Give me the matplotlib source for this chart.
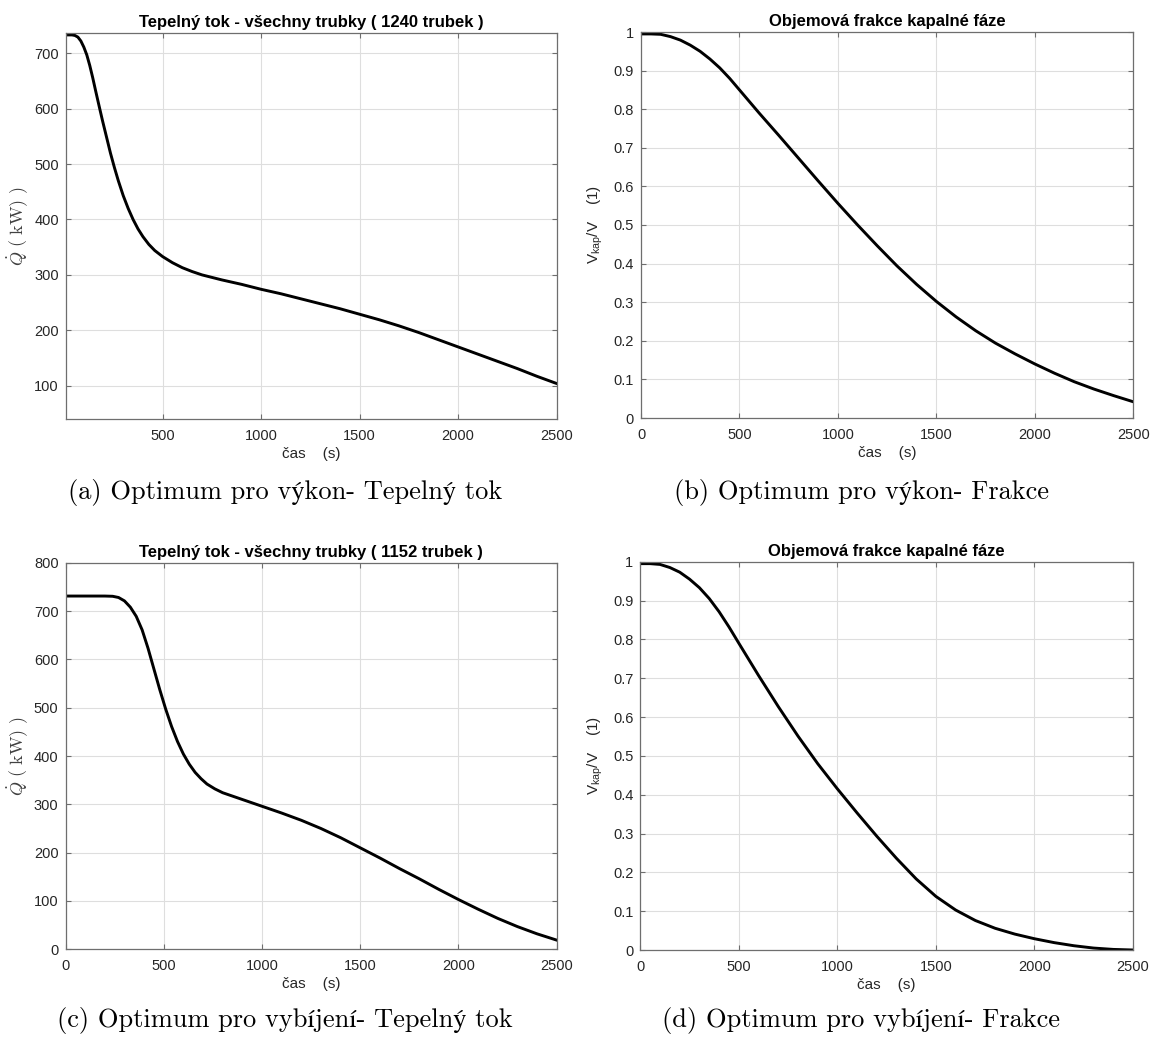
import matplotlib
matplotlib.use("Agg")
import matplotlib.pyplot as plt

# --- data -------------------------------------------------------------
# (a) heat flow, 1240 tubes
t_a = [8, 40, 55, 70, 85, 100, 115, 130, 145, 160, 178, 195, 215, 235, 255,
       275, 300, 325, 350, 375, 400, 430, 460, 500, 550, 600, 650, 700, 800,
       900, 1000, 1100, 1200, 1300, 1400, 1500, 1600, 1700, 1800, 1900, 2000,
       2100, 2200, 2300, 2400, 2500]
q_a = [733, 733, 732, 729, 722, 711, 697, 678, 656, 632, 604, 578, 549, 520,
       494, 470, 443, 420, 400, 383, 369, 355, 344, 333, 322, 313, 306, 300,
       291, 283, 274, 266, 257, 248, 239, 229, 219, 208, 196, 183, 170, 157,
       144, 131, 117, 104]

# (b) liquid volume fraction, 1240 tubes
t_b = [0, 50, 100, 150, 200, 250, 300, 350, 400, 450, 500, 600, 700, 800,
       900, 1000, 1100, 1200, 1300, 1400, 1500, 1600, 1700, 1800, 1900, 2000,
       2100, 2200, 2300, 2400, 2500]
v_b = [0.995, 0.995, 0.994, 0.988, 0.979, 0.966, 0.950, 0.930, 0.907, 0.880,
       0.850, 0.790, 0.732, 0.673, 0.614, 0.556, 0.500, 0.446, 0.394, 0.346,
       0.302, 0.262, 0.226, 0.194, 0.166, 0.140, 0.116, 0.094, 0.075, 0.058,
       0.042]

# (c) heat flow, 1152 tubes
t_c = [0, 100, 200, 240, 270, 300, 330, 360, 390, 420, 450, 480, 510, 540,
       570, 600, 630, 660, 690, 720, 760, 800, 850, 900, 950, 1000, 1100, 1200,
       1300, 1400, 1500, 1600, 1700, 1800, 1900, 2000, 2100, 2200, 2300, 2400,
       2500]
q_c = [731, 731, 731, 730.5, 728, 721, 708, 689, 661, 623, 580, 537, 497, 461,
       430, 404, 383, 366, 353, 342, 332, 324, 317, 310, 303, 296, 282, 267,
       250, 231, 210, 189, 167, 146, 124, 103, 83, 64, 47, 32, 19]

# (d) liquid volume fraction, 1152 tubes
t_d = [0, 50, 100, 150, 200, 250, 300, 350, 400, 450, 500, 600, 700, 800,
       900, 1000, 1100, 1200, 1300, 1400, 1500, 1600, 1700, 1800, 1900, 2000,
       2100, 2200, 2300, 2400, 2500]
v_d = [0.995, 0.995, 0.993, 0.985, 0.973, 0.955, 0.933, 0.905, 0.871, 0.832,
       0.790, 0.707, 0.627, 0.551, 0.480, 0.415, 0.353, 0.293, 0.236, 0.183,
       0.138, 0.103, 0.076, 0.056, 0.041, 0.029, 0.019, 0.011, 0.005, 0.0015,
       0.0]

q_ticks_a = [100, 200, 300, 400, 500, 600, 700]
q_ticks_c = [0, 100, 200, 300, 400, 500, 600, 700, 800]
v_ticks = [0, 0.1, 0.2, 0.3, 0.4, 0.5, 0.6, 0.7, 0.8, 0.9, 1]
t_ticks_a = [500, 1000, 1500, 2000, 2500]
t_ticks = [0, 500, 1000, 1500, 2000, 2500]

titles = ["Tepelný tok - všechny trubky ( 1240 trubek )",
          "Objemová frakce kapalné fáze",
          "Tepelný tok - všechny trubky ( 1152 trubek )",
          "Objemová frakce kapalné fáze"]
captions = ["(a) Optimum pro výkon- Tepelný tok",
            "(b) Optimum pro výkon- Frakce",
            "(c) Optimum pro vybíjení- Tepelný tok",
            "(d) Optimum pro vybíjení- Frakce"]

# --- style -------------------------------------------------------------
plt.rcParams["font.family"] = ["Liberation Sans", "DejaVu Sans"]
plt.rcParams["mathtext.fontset"] = "custom"
plt.rcParams["mathtext.rm"] = "Liberation Sans"
plt.rcParams["mathtext.it"] = "Liberation Sans:italic"

W, H = 1164, 1038
fig = plt.figure(figsize=(W / 100, H / 100), dpi=100)

TXT = "#262626"
SPINE = "#6e6e6e"
GRID = "#dedede"


def px_axes(l, t, r, b):
    return fig.add_axes([l / W, 1 - b / H, (r - l) / W, (b - t) / H])


def style(ax, xlim, ylim, xt, yt, ylab_fmt=None):
    ax.set_xlim(*xlim)
    ax.set_ylim(*ylim)
    ax.set_xticks(xt)
    ax.set_yticks(yt)
    if ylab_fmt:
        ax.set_yticklabels([ylab_fmt(v) for v in yt])
    ax.grid(True, color=GRID, linewidth=0.8)
    ax.set_axisbelow(True)
    for s in ax.spines.values():
        s.set_color(SPINE)
        s.set_linewidth(0.9)
    ax.tick_params(direction="in", length=3.5, width=0.8, color=SPINE,
                   labelcolor=TXT, labelsize=10.5, top=True, right=True,
                   pad=5)
    ax.tick_params(axis="x", pad=7)
    ax.set_xlabel("čas    (s)", fontsize=11, color=TXT, labelpad=3)


def frac_fmt(v):
    return "0" if v == 0 else ("1" if v == 1 else f"{v:.1f}")


def heat_ylabel(ax):
    ax.set_ylabel(r"$\dot{Q}\ (\ \mathrm{kW})\ )$", fontsize=13,
                  color="#404040", math_fontfamily="cm", labelpad=3)


def frac_ylabel(ax):
    ax.set_ylabel(r"V$_{\mathrm{kap}}$/V    (1)", fontsize=11, color=TXT,
                  labelpad=6)


def title(ax, txt):
    ax.set_title(txt, fontsize=12, fontweight="bold", color="black", pad=4)


LW = 2.1

ax_a = px_axes(65.7, 32.7, 556.7, 419)
ax_a.plot(t_a, q_a, color="black", lw=LW, solid_joinstyle="round")
style(ax_a, (8, 2500), (40, 737), t_ticks_a, q_ticks_a)
heat_ylabel(ax_a)
title(ax_a, titles[0])

ax_b = px_axes(641, 32, 1133.3, 418)
ax_b.plot(t_b, v_b, color="black", lw=LW, solid_joinstyle="round")
style(ax_b, (0, 2500), (0, 1), t_ticks, v_ticks, frac_fmt)
frac_ylabel(ax_b)
title(ax_b, titles[1])

ax_c = px_axes(65.5, 562.7, 556.7, 949.3)
ax_c.plot(t_c, q_c, color="black", lw=LW, solid_joinstyle="round")
style(ax_c, (0, 2500), (0, 800), t_ticks, q_ticks_c)
heat_ylabel(ax_c)
title(ax_c, titles[2])

ax_d = px_axes(640.3, 561.7, 1133, 950)
ax_d.plot(t_d, v_d, color="black", lw=LW, solid_joinstyle="round")
style(ax_d, (0, 2500), (0, 1), t_ticks, v_ticks, frac_fmt)
frac_ylabel(ax_d)
title(ax_d, titles[3])

cap_pos = [(285, 493), (861, 493), (285, 1020), (861, 1020)]
for (x, y), txt in zip(cap_pos, captions):
    fig.text(x / W, 1 - y / H, txt, ha="center", va="center", fontsize=19,
             family=["cmr10", "STIXGeneral"], color="black")

fig.savefig("out.png", dpi=100)
